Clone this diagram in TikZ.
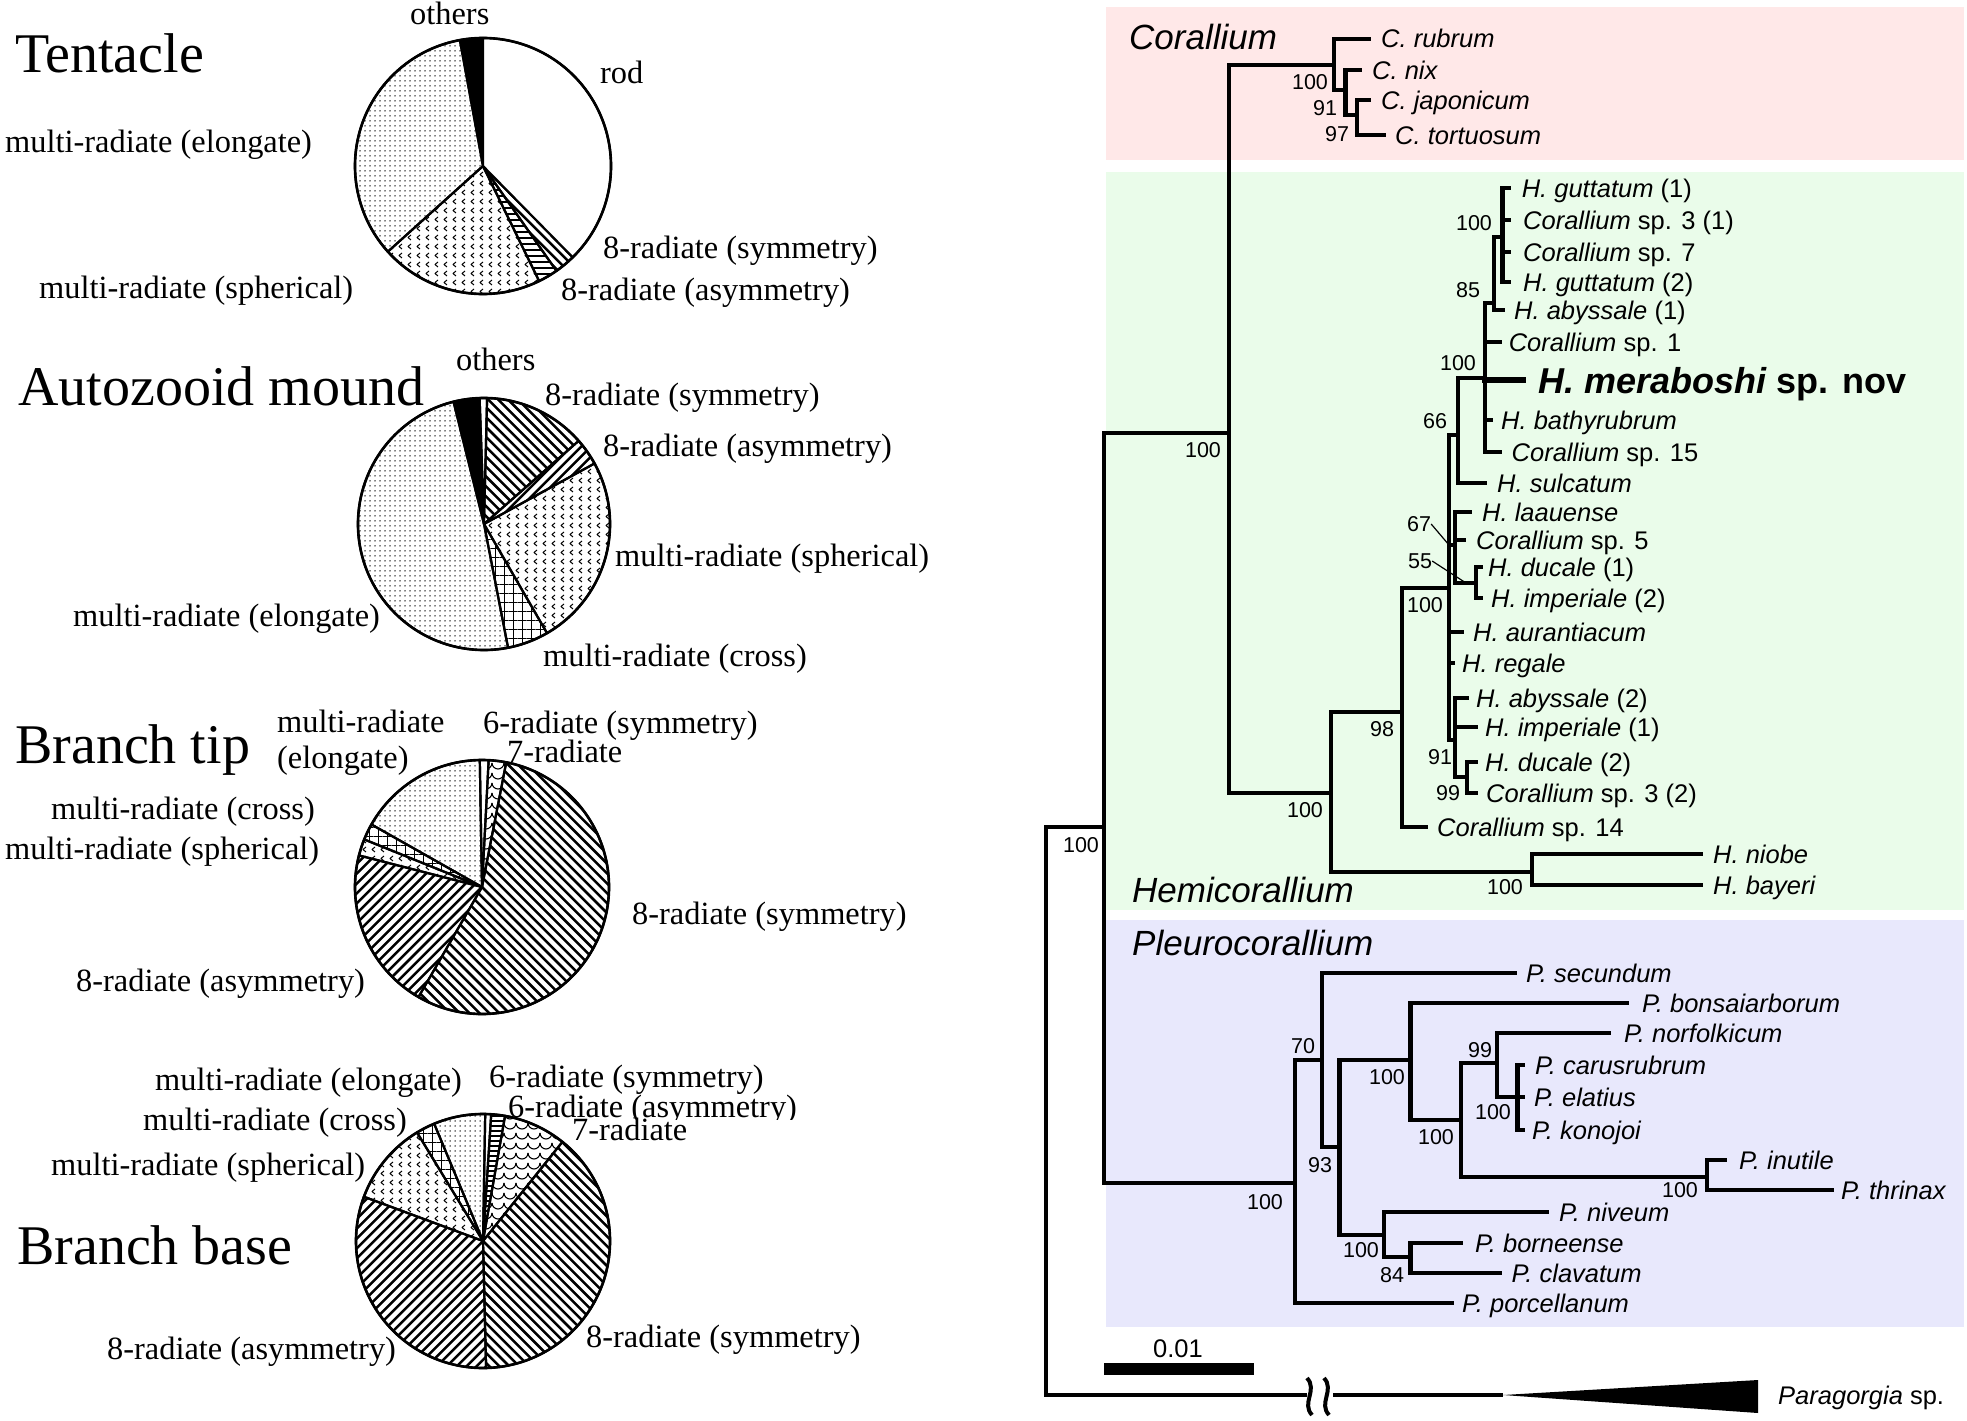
\documentclass[tikz,border=0pt]{standalone}
\usepackage{fontspec}
\setmainfont{Liberation Serif}
\setsansfont{Liberation Sans}
\usetikzlibrary{patterns,patterns.meta}
\definecolor{pinkbg}{RGB}{255,232,232}
\definecolor{greenbg}{RGB}{234,252,234}
\definecolor{bluebg}{RGB}{232,232,252}

\tikzdeclarepattern{
  name=chev,
  type=uncolored,
  bottom left={(-1pt,-1pt)},
  top right={(10pt,10pt)},
  tile size={(9pt,9pt)},
  code={
    \tikzset{x=1pt,y=1pt}
    \draw[line width=1pt] (6,2) -- (3,4.5) -- (6,7);
  }
}
\tikzdeclarepattern{
  name=scallop,
  type=uncolored,
  bottom left={(-1pt,-1pt)},
  top right={(13pt,11pt)},
  tile size={(12pt,10pt)},
  code={
    \tikzset{x=1pt,y=1pt}
    \draw[line width=1.1pt] (0,8) arc[start angle=180,end angle=360,radius=6];
  }
}

\newcommand\pslice[5]{\draw[#5] (#1) -- ++(#3:#2) arc[start angle=#3,end angle=#4,radius=#2] -- cycle;}
% striped slice: centre, radius, start, end, stripe angle, spacing, stripe width
\newcommand\lslice[7]{%
  \begin{scope}
    \clip (#1) -- ++(#3:#2) arc[start angle=#3,end angle=#4,radius=#2] -- cycle;
    \foreach \lk in {-26,...,26}{\draw[line width=#7,shift={(#1)},rotate=#5] (-150,\lk*#6) -- (150,\lk*#6);}
  \end{scope}
  \draw[pie] (#1) -- ++(#3:#2) arc[start angle=#3,end angle=#4,radius=#2] -- cycle;}
\newcommand\tv[3]{\draw[br] (#1 |- #2) -- (#1 |- #3);}
\newcommand\tk[2]{\foreach \tkc in {#2}{\draw[br] (#1 |- \tkc) -- (\tkc);}}

\begin{document}
\begin{tikzpicture}[x=1pt,y=-1pt,
  lab/.style={font=\fontsize{32.4}{38}\selectfont, inner sep=0pt, anchor=base west},
  ttl/.style={font=\fontsize{56}{64}\selectfont, inner sep=0pt, anchor=base west},
  pie/.style={draw=black, line width=2.2pt, line join=round},
  pwhite/.style={pie, fill=white},
  pblack/.style={pie, fill=black},
  pelong/.style={pie, pattern={Dots[distance=5pt,radius=0.75pt]}},
  psph/.style={pie, pattern=chev},
  pcross/.style={pie, pattern={Hatch[distance=9pt,line width=0.8pt]}},
  pseven/.style={pie, pattern=scallop},
  rim/.style={draw=black, line width=2.6pt},
  br/.style={line width=4.5pt, line cap=rect},
  sp/.style={font=\sffamily\fontsize{25.5}{30}\selectfont, inner sep=0pt, anchor=base west, yshift=-9pt},
  bs/.style={font=\sffamily\fontsize{21.5}{25}\selectfont, inner sep=0pt},
  cl/.style={font=\sffamily\itshape\fontsize{35}{40}\selectfont, inner sep=0pt, anchor=base west},
  lead/.style={line width=1.2pt}
]
\useasboundingbox (0,0) rectangle (1967,1421);
\fill[white] (0,0) rectangle (1967,1421);

% ================= PIE CHARTS =================
\coordinate (pT) at (483,166);
\coordinate (pA) at (484,524);
\coordinate (pB) at (482,887);
\coordinate (pC) at (483,1241);

% Tentacle
\pslice{pT}{128}{-90}{-100.4}{pblack}
\pslice{pT}{128}{-100.4}{-222}{pelong}
\pslice{pT}{128}{-222}{-296}{psph}
\lslice{pT}{128}{-296}{-305}{0}{6}{2.2pt}
\lslice{pT}{128}{-305}{-314.5}{-45}{7}{2.5pt}
\pslice{pT}{128}{-314.5}{-450}{pwhite}
\draw[rim] (pT) circle[radius=128];

% Autozooid mound
\pslice{pA}{126}{-88.6}{-92}{pwhite}
\pslice{pA}{126}{-92}{-104}{pblack}
\pslice{pA}{126}{-104}{-281}{pelong}
\pslice{pA}{126}{-281}{-300}{pcross}
\pslice{pA}{126}{-300}{-388.7}{psph}
\lslice{pA}{126}{-388.7}{-401.3}{45}{7}{2.5pt}
\lslice{pA}{126}{-401.3}{-448.6}{-45}{7}{2.5pt}
\draw[rim] (pA) circle[radius=126];

% Branch tip
\pslice{pB}{127}{-87}{-91}{pwhite}
\pslice{pB}{127}{-91}{-150.5}{pelong}
\pslice{pB}{127}{-150.5}{-158}{pcross}
\pslice{pB}{127}{-158}{-165.6}{psph}
\lslice{pB}{127}{-165.6}{-240}{45}{7}{2.5pt}
\lslice{pB}{127}{-240}{-439}{-45}{7}{2.5pt}
\pslice{pB}{127}{-439}{-447}{pseven}
\draw[rim] (pB) circle[radius=127];

% Branch base
\pslice{pC}{127}{-86.3}{-89}{pwhite}
\pslice{pC}{127}{-89}{-112.6}{pelong}
\pslice{pC}{127}{-112.6}{-121.3}{pcross}
\pslice{pC}{127}{-121.3}{-159.6}{psph}
\lslice{pC}{127}{-159.6}{-271.4}{45}{7}{2.5pt}
\lslice{pC}{127}{-271.4}{-411.3}{-45}{7}{2.5pt}
\pslice{pC}{127}{-411.3}{-440}{pseven}
\lslice{pC}{127}{-440}{-446.3}{0}{5}{2pt}
\draw[rim] (pC) circle[radius=127];

% Pie labels - Tentacle
\node[ttl] (t1) at (15,73) {Tentacle};
\node[lab] (t1a) at (410,25) {others};
\node[lab] (t1b) at (600,83) {rod};
\node[lab] (t1c) at (5,152) {multi-radiate (elongate)};
\node[lab] (t1d) at (39,298) {multi-radiate (spherical)};
\node[lab] (t1e) at (603,258) {8-radiate (symmetry)};
\node[lab] (t1f) at (561,300) {8-radiate (asymmetry)};

% Autozooid mound
\node[ttl] (t2) at (18,405) {Autozooid mound};
\node[lab] (t2a) at (456,370) {others};
\node[lab] (t2b) at (545,405) {8-radiate (symmetry)};
\node[lab] (t2c) at (603,456) {8-radiate (asymmetry)};
\node[lab] (t2d) at (615,566) {multi-radiate (spherical)};
\node[lab] (t2e) at (73,626) {multi-radiate (elongate)};
\node[lab] (t2f) at (543,666) {multi-radiate (cross)};

% Branch tip
\node[ttl] (t3) at (15,763) {Branch tip};
\node[lab] (t3a) at (277,732) {multi-radiate};
\node[lab] (t3b) at (277,768) {(elongate)};
\node[lab] (t3c) at (483,733) {6-radiate (symmetry)};
\node[lab] (t3d) at (507,762) {7-radiate};
\node[lab] (t3e) at (51,819) {multi-radiate (cross)};
\node[lab] (t3f) at (5,859) {multi-radiate (spherical)};
\node[lab] (t3g) at (632,924) {8-radiate (symmetry)};
\node[lab] (t3h) at (76,991) {8-radiate (asymmetry)};

% Branch base
\node[lab] (t4a) at (155,1090) {multi-radiate (elongate)};
\node[lab] (t4b) at (489,1087) {6-radiate (symmetry)};
\begin{scope}
\clip (500,1080) rectangle (820,1119);
\node[lab] (t4c) at (508,1117) {6-radiate (asymmetry)};
\end{scope}
\node[lab] (t4d) at (572,1140) {7-radiate};
\node[lab] (t4e) at (143,1130) {multi-radiate (cross)};
\node[lab] (t4f) at (51,1175) {multi-radiate (spherical)};
\node[ttl] (t4) at (17,1264) {Branch base};
\node[lab] (t4g) at (586,1347) {8-radiate (symmetry)};
\node[lab] (t4h) at (107,1359) {8-radiate (asymmetry)};

% ================= TREE =================
\fill[pinkbg] (1106,7) rectangle (1964,160);
\fill[greenbg] (1106,172) rectangle (1964,910);
\fill[bluebg] (1106,920) rectangle (1964,1327);

\node[cl] (cor) at (1129,50) {Corallium};
\node[cl] (hem) at (1132,902) {Hemicorallium};
\node[cl] (ple) at (1132,955) {Pleurocorallium};

% internal nodes
\coordinate (R0) at (1046,827);
\coordinate (ING) at (1104,827);
\coordinate (CH) at (1229,433);
\coordinate (PL) at (1295,1183);
\coordinate (CO) at (1334,65);
\coordinate (CB) at (1345.5,90);
\coordinate (CC) at (1357,115);
\coordinate (HE) at (1331,793);
\coordinate (nE) at (1532,872);
\coordinate (F) at (1402,712);
\coordinate (G) at (1449,588);
\coordinate (H) at (1458,435);
\coordinate (I) at (1485,378);
\coordinate (J) at (1494,303);
\coordinate (K) at (1502.6,237);
\coordinate (L) at (1455,545);
\coordinate (O) at (1476,583);
\coordinate (M) at (1455,740);
\coordinate (N) at (1467,777);
\coordinate (Q) at (1322,1060);
\coordinate (R) at (1339.5,1147);
\coordinate (S) at (1410.7,1060);
\coordinate (U) at (1461,1120);
\coordinate (V) at (1497,1063);
\coordinate (X) at (1517.5,1097);
\coordinate (W) at (1707,1177);
\coordinate (T) at (1384,1235);
\coordinate (Y) at (1410.7,1257);

% leaf tips
\coordinate (rub) at (1369,39);
\coordinate (nix) at (1360,70);
\coordinate (jap) at (1369,100);
\coordinate (tor) at (1384,135);
\coordinate (gut1) at (1508.6,188);
\coordinate (sp31) at (1508.6,220);
\coordinate (sp7) at (1508.6,252);
\coordinate (gut2) at (1508.6,282);
\coordinate (aby1) at (1503,310);
\coordinate (sp1) at (1500,342);
\coordinate (mer) at (1523,380);
\coordinate (bat) at (1491,420);
\coordinate (sp15) at (1500,452);
\coordinate (sul) at (1485,483);
\coordinate (laa) at (1470,512);
\coordinate (sp5) at (1464,540);
\coordinate (duc1) at (1481,567);
\coordinate (imp2) at (1481,598);
\coordinate (aur) at (1462,632);
\coordinate (reg) at (1453,663);
\coordinate (aby2) at (1467,698);
\coordinate (imp1) at (1476,727);
\coordinate (duc2) at (1476,762);
\coordinate (sp32) at (1476,793);
\coordinate (sp14) at (1425.5,827);
\coordinate (nio) at (1701,854);
\coordinate (bay) at (1701,885);
\coordinate (sec) at (1514.5,973);
\coordinate (bon) at (1627,1003);
\coordinate (nor) at (1609,1033);
\coordinate (car) at (1523,1065);
\coordinate (ela) at (1523,1097);
\coordinate (kon) at (1523,1130);
\coordinate (inu) at (1725,1160);
\coordinate (thr) at (1832,1190);
\coordinate (niv) at (1547,1212);
\coordinate (bor) at (1461,1243);
\coordinate (cla) at (1500,1273);
\coordinate (por) at (1452,1303);
\coordinate (pga) at (1305,1395);
\coordinate (pgb) at (1333,1395);
\coordinate (pgt) at (1503,1395);
\coordinate (l55) at (1466,583);

% branches
\draw[br] (R0) -- (R0 |- pgt);
\draw[br] (R0) -- (ING);
\tv{ING}{CH}{PL} \tk{ING}{CH,PL}
\tv{CH}{CO}{HE} \tk{CH}{CO,HE}
\tv{CO}{rub}{CB} \tk{CO}{rub,CB}
\tv{CB}{nix}{CC} \tk{CB}{nix,CC}
\tv{CC}{jap}{tor} \tk{CC}{jap,tor}
\tv{HE}{F}{nE} \tk{HE}{F,nE}
\tv{nE}{nio}{bay} \tk{nE}{nio,bay}
\tv{F}{G}{sp14} \tk{F}{G,sp14}
\tv{G}{H}{M} \tk{G}{H,L,aur,reg,M}
\tv{H}{I}{sul} \tk{H}{I,sul}
\tv{I}{J}{sp15} \tk{I}{J,sp1,bat,sp15}
\draw[br, line width=5.5pt] (I |- mer) -- (mer);
\tv{J}{K}{aby1} \tk{J}{K,aby1}
\tv{K}{gut1}{gut2} \tk{K}{gut1,sp31,sp7,gut2}
\tv{L}{laa}{O} \tk{L}{laa,sp5,O}
\tv{O}{duc1}{imp2} \tk{O}{duc1,imp2}
\tv{M}{aby2}{N} \tk{M}{aby2,imp1,N}
\tv{N}{duc2}{sp32} \tk{N}{duc2,sp32}
\tv{PL}{Q}{por} \tk{PL}{Q,por}
\tv{Q}{sec}{R} \tk{Q}{sec,R}
\tv{R}{S}{T} \tk{R}{S,T}
\tv{S}{bon}{U} \tk{S}{bon,U}
\tv{U}{V}{W} \tk{U}{V,W}
\tv{V}{nor}{X} \tk{V}{nor,X}
\tv{X}{car}{kon} \tk{X}{car,ela,kon}
\tv{W}{inu}{thr} \tk{W}{inu,thr}
\tv{T}{niv}{Y} \tk{T}{niv,Y}
\tv{Y}{bor}{cla} \tk{Y}{bor,cla}

% outgroup with break
\draw[br] (R0 |- pgt) -- (pga);
\draw[line width=4pt] (pgb) -- (pgt);
\fill (pgt) -- (1758,1380) -- (1758,1413) -- cycle;
\draw[line width=4pt] (1307,1378) .. controls (1318,1390) and (1301,1403) .. (1312,1415);
\draw[line width=4pt] (1324,1378) .. controls (1335,1390) and (1318,1403) .. (1329,1415);

% leaf labels
\node[sp] (lrub) at (1381,39) {\textit{C. rubrum}};
\node[sp] (lnix) at (1372,70) {\textit{C. nix}};
\node[sp] (ljap) at (1381,100) {\textit{C. japonicum}};
\node[sp] (ltor) at (1395,135) {\textit{C. tortuosum}};
\node[sp] (lgut1) at (1521.6,188) {\textit{H. guttatum} (1)};
\node[sp] (lsp31) at (1523,220) {\textit{Corallium} sp. 3 (1)};
\node[sp] (lsp7) at (1523,252) {\textit{Corallium} sp. 7};
\node[sp] (lgut2) at (1523,282) {\textit{H. guttatum} (2)};
\node[sp] (laby1) at (1514,310) {\textit{H. abyssale} (1)};
\node[sp] (lsp1) at (1508.6,342) {\textit{Corallium} sp. 1};
\node[font=\sffamily\bfseries\fontsize{36}{42}\selectfont, inner sep=0pt, anchor=base west, yshift=-13pt] (lmer) at (1538,380) {\textit{H. meraboshi} sp. nov};
\node[sp] (lbat) at (1501,420) {\textit{H. bathyrubrum}};
\node[sp] (lsp15) at (1511.5,452) {\textit{Corallium} sp. 15};
\node[sp] (lsul) at (1497,483) {\textit{H. sulcatum}};
\node[sp] (llaa) at (1482,512) {\textit{H. laauense}};
\node[sp] (lsp5) at (1476,540) {\textit{Corallium} sp. 5};
\node[sp] (lduc1) at (1488,567) {\textit{H. ducale} (1)};
\node[sp] (limp2) at (1491,598) {\textit{H. imperiale} (2)};
\node[sp] (laur) at (1473,632) {\textit{H. aurantiacum}};
\node[sp] (lreg) at (1462,663) {\textit{H. regale}};
\node[sp] (laby2) at (1476,698) {\textit{H. abyssale} (2)};
\node[sp] (limp1) at (1485,727) {\textit{H. imperiale} (1)};
\node[sp] (lduc2) at (1485,762) {\textit{H. ducale} (2)};
\node[sp] (lsp32) at (1486,793) {\textit{Corallium} sp. 3 (2)};
\node[sp] (lsp14) at (1437,827) {\textit{Corallium} sp. 14};
\node[sp] (lnio) at (1713,854) {\textit{H. niobe}};
\node[sp] (lbay) at (1713,885) {\textit{H. bayeri}};
\node[sp] (lsec) at (1526,973) {\textit{P. secundum}};
\node[sp] (lbon) at (1642,1003) {\textit{P. bonsaiarborum}};
\node[sp] (lnor) at (1624,1033) {\textit{P. norfolkicum}};
\node[sp] (lcar) at (1535,1065) {\textit{P. carusrubrum}};
\node[sp] (lela) at (1534,1097) {\textit{P. elatius}};
\node[sp] (lkon) at (1532,1130) {\textit{P. konojoi}};
\node[sp] (linu) at (1739,1160) {\textit{P. inutile}};
\node[sp] (lthr) at (1841,1190) {\textit{P. thrinax}};
\node[sp] (lniv) at (1559,1212) {\textit{P. niveum}};
\node[sp] (lbor) at (1475,1243) {\textit{P. borneense}};
\node[sp] (lcla) at (1511.5,1273) {\textit{P. clavatum}};
\node[sp] (lpor) at (1462,1303) {\textit{P. porcellanum}};
\node[sp] (lpar) at (1778,1395) {\textit{Paragorgia} sp.};

% bootstrap values
\node[bs] (b1) at (1310,82) {100};
\node[bs] (b2) at (1325,108) {91};
\node[bs] (b3) at (1337,134) {97};
\node[bs] (b4) at (1474,223) {100};
\node[bs] (b5) at (1468,290) {85};
\node[bs] (b6) at (1458,363) {100};
\node[bs] (b7) at (1435,421) {66};
\node[bs] (b67) at (1419,524) {67};
\node[bs] (b55) at (1420,561) {55};
\node[bs] (b8) at (1425,605) {100};
\node[bs] (b9) at (1382,729) {98};
\node[bs] (b10) at (1440,757) {91};
\node[bs] (b11) at (1448,793) {99};
\node[bs] (b12) at (1305,810) {100};
\node[bs] (b13) at (1505,887) {100};
\node[bs] (b14) at (1203,450) {100};
\node[bs] (b15) at (1081,845) {100};
\node[bs] (b16) at (1303,1046) {70};
\node[bs] (b17) at (1320,1165) {93};
\node[bs] (b18) at (1387,1077) {100};
\node[bs] (b19) at (1436,1137) {100};
\node[bs] (b20) at (1480,1050) {99};
\node[bs] (b21) at (1493,1112) {100};
\node[bs] (b22) at (1680,1190) {100};
\node[bs] (b23) at (1361,1250) {100};
\node[bs] (b24) at (1392,1275) {84};
\node[bs] (b25) at (1265,1202) {100};
\draw[lead] (b67.east) -- (G |- L);
\draw[lead] (b55.east) -- (l55);

% scale bar
\fill (1104,1363) rectangle (1253.5,1375);
\node[font=\sffamily\fontsize{25.5}{30}\selectfont, inner sep=0pt] (sb) at (1178,1349) {0.01};
\end{tikzpicture}
\end{document}
